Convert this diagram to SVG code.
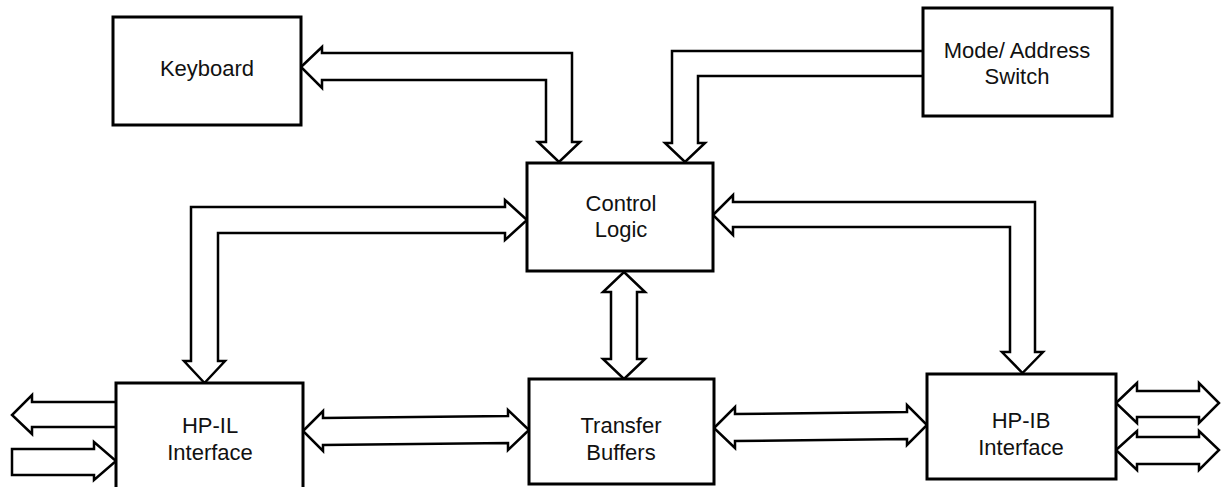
<svg xmlns="http://www.w3.org/2000/svg" width="1221" height="487" viewBox="0 0 1221 487">
<style>
.box{fill:#fff;stroke:#000;stroke-width:3}
.bus{fill:#fff;stroke:#000;stroke-width:2.5;stroke-linejoin:miter}
.lbl{font-family:"Liberation Sans",Arial,sans-serif;font-size:22px;fill:#111;text-anchor:middle}
</style>
<rect width="1221" height="487" fill="#fff"/>
<g id="connectors">
<polygon class="bus" points="301,67 322,47 322,53 572,53 572,142 580,142 559,162 538,142 546,142 546,80 322,80 322,88"/>
<polyline class="bus" points="923,51 672,51 672,143 665,143 685,162 705,143 698,143 698,76 923,76"/>
<polygon class="bus" points="527,220 505,200 505,207 191,207 191,361 184,361 204.5,383 225,361 218,361 218,233 505,233 505,240"/>
<polygon class="bus" points="713,215 733,195 733,202 1035,202 1035,352 1043,352 1022.5,373 1002,352 1010,352 1010,227 733,227 733,235"/>
<polygon class="bus" points="624,272 645,292 637,292 637,359 645,359 624,379 603,359 611,359 611,292 603,292"/>
<polygon class="bus" points="303,431 323,411 323,418 508,416 508,410 529,430 508,450 508,443 323,445 323,451"/>
<polygon class="bus" points="714,428 735,407 735,414 907,412 907,405 927,425 907,445 907,439 735,441 735,448"/>
<polyline class="bus" points="116,402 32,402 32,395 12,415 32,434 32,427 116,427"/>
<polygon class="bus" points="12,449 94,449 94,442 116,461 94,480 94,475 12,475"/>
<polygon class="bus" points="1116,403 1137,383 1137,391 1199,391 1199,383 1219,403 1199,423 1199,417 1137,417 1137,423"/>
<polygon class="bus" points="1116,450 1137,431 1137,437 1199,437 1199,431 1219,450 1199,470 1199,464 1137,464 1137,470"/>
</g>
<g id="keyboard">
<rect class="box" x="113" y="17" width="188" height="108"/>
<text class="lbl" x="207" y="76">Keyboard</text>
</g>
<g id="mode-address-switch">
<rect class="box" x="923" y="8" width="189" height="108"/>
<text class="lbl" x="1017" y="58">Mode/ Address</text>
<text class="lbl" x="1017" y="84">Switch</text>
</g>
<g id="control-logic">
<rect class="box" x="527" y="163" width="186" height="108"/>
<text class="lbl" x="621" y="211">Control</text>
<text class="lbl" x="621" y="237">Logic</text>
</g>
<g id="hp-il-interface">
<rect class="box" x="116" y="383" width="187" height="112"/>
<text class="lbl" x="210" y="433">HP-IL</text>
<text class="lbl" x="210" y="460">Interface</text>
</g>
<g id="transfer-buffers">
<rect class="box" x="529" y="379" width="185" height="105"/>
<text class="lbl" x="621" y="433">Transfer</text>
<text class="lbl" x="621" y="460">Buffers</text>
</g>
<g id="hp-ib-interface">
<rect class="box" x="927" y="374" width="189" height="105"/>
<text class="lbl" x="1021" y="428">HP-IB</text>
<text class="lbl" x="1021" y="455">Interface</text>
</g>
</svg>
